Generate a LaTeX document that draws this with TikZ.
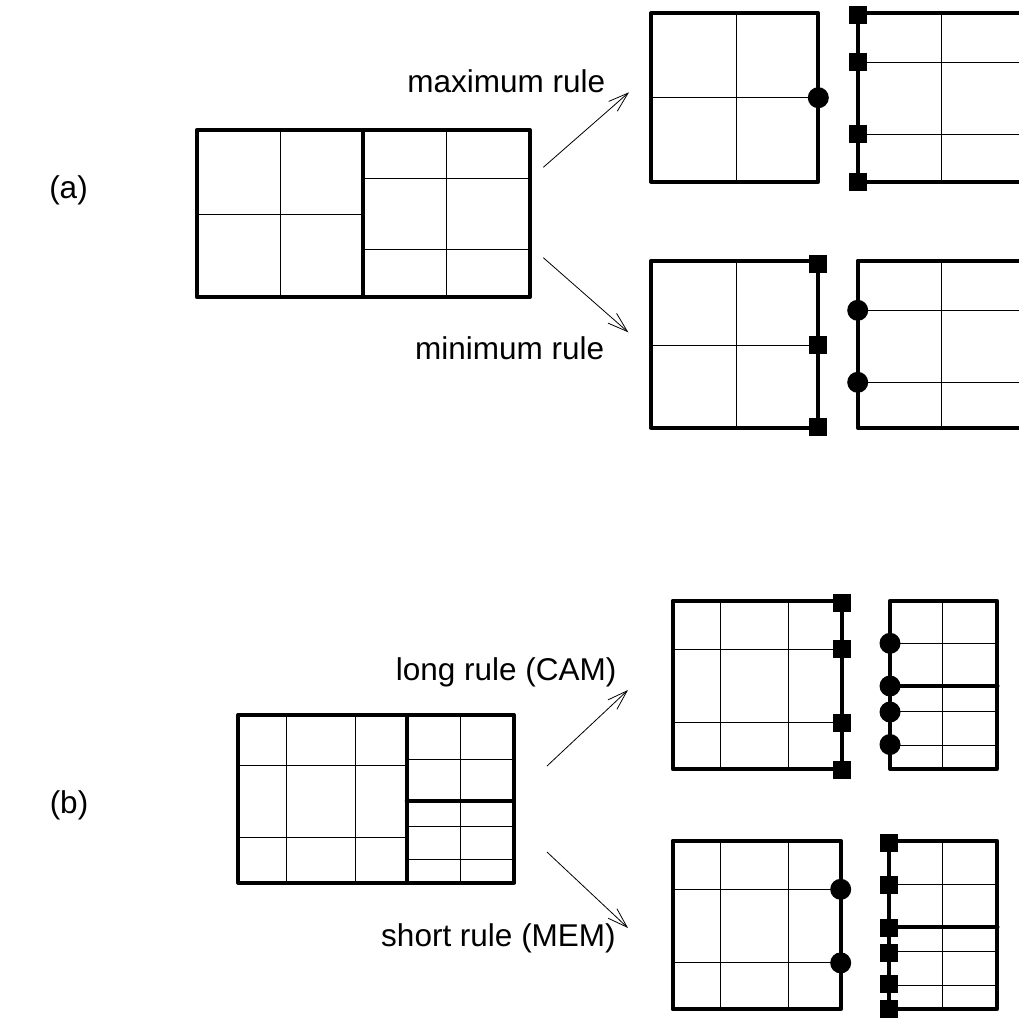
\documentclass[tikz,border=0pt]{standalone}
\usepackage{fontspec}
\setmainfont{Liberation Sans}
\usetikzlibrary{arrows.meta}
\begin{document}
\begin{tikzpicture}[x=1pt,y=-1pt,
 thickline/.style={line width=4pt, line join=round, line cap=round},
 thinline/.style={line width=1pt},
 sq/.style={rectangle, fill=black, minimum size=18pt, inner sep=0pt, draw=none},
 dot/.style={circle, fill=black, minimum size=21pt, inner sep=0pt, draw=none},
 lbl/.style={anchor=base, font=\fontsize{31.5}{38}\selectfont, inner sep=0pt},
 arr/.style={line width=0.8pt, -{Straight Barb[length=20pt,width=13pt,line width=0.8pt]}}
]
\useasboundingbox (0,0) rectangle (1019,1017);
\clip (0,0) rectangle (1019,1017);

% ---------- (a) original ----------
\draw[thinline] (280.7,130) -- (280.7,297) (196.7,214.3) -- (362.7,214.3)
  (446,130) -- (446,297) (362.7,178.3) -- (530,178.3) (362.7,249.3) -- (530,249.3);
\draw[thickline] (196.7,130) rectangle (530,297) (362.7,130) -- (362.7,297);

% maximum rule: left part
\draw[thinline] (736.7,13.3) -- (736.7,181.7) (651,97.7) -- (818.3,97.7);
\draw[thickline] (651,13.3) rectangle (818.3,181.7);
\node[dot] (mxc1) at (818.3,97.7) {};
% maximum rule: right part
\draw[thinline] (941.7,13.3) -- (941.7,181.7) (858.3,62.3) -- (1025,62.3) (858.3,134.3) -- (1025,134.3);
\draw[thickline] (1030,13.3) -- (858.3,13.3) -- (858.3,181.7) -- (1030,181.7);
\node[sq] (mxs1) at (858.3,15) {};
\node[sq] (mxs2) at (858.3,62.3) {};
\node[sq] (mxs3) at (858.3,134.3) {};
\node[sq] (mxs4) at (858.3,181.7) {};

% minimum rule: left part
\draw[thinline] (736.7,260.7) -- (736.7,427.7) (651,345.3) -- (818.3,345.3);
\draw[thickline] (651,260.7) rectangle (818.3,427.7);
\node[sq] (mns1) at (818.3,263.5) {};
\node[sq] (mns2) at (818.3,345.3) {};
\node[sq] (mns3) at (818.3,427) {};
% minimum rule: right part
\draw[thinline] (941.7,260.7) -- (941.7,427.7) (857.7,310.3) -- (1025,310.3) (857.7,382.3) -- (1025,382.3);
\draw[thickline] (1030,260.7) -- (857.7,260.7) -- (857.7,427.7) -- (1030,427.7);
\node[dot] (mnc1) at (857.7,310.3) {};
\node[dot] (mnc2) at (857.7,382.3) {};

% ---------- (b) original ----------
\draw[thinline] (286.7,715) -- (286.7,882.7) (355,715) -- (355,882.7)
  (238.3,765.3) -- (406.7,765.3) (238.3,837.7) -- (406.7,837.7)
  (460.7,715) -- (460.7,882.7) (406.7,759) -- (514,759)
  (406.7,826.7) -- (514,826.7) (406.7,859.3) -- (514,859.3);
\draw[thickline] (238.3,715) rectangle (514,882.7) (406.7,715) -- (406.7,882.7) (406.7,801) -- (514,801);

% long rule: left part
\draw[thinline] (720,600.7) -- (720,769) (788.3,600.7) -- (788.3,769)
  (672.7,649.3) -- (841.7,649.3) (672.7,722.7) -- (841.7,722.7);
\draw[thickline] (672.7,600.7) rectangle (841.7,769);
\node[sq] (ls1) at (841.7,602.7) {};
\node[sq] (ls2) at (841.7,649.3) {};
\node[sq] (ls3) at (841.7,722.7) {};
\node[sq] (ls4) at (841.7,770) {};
% long rule: right part
\draw[thinline] (942.7,600.7) -- (942.7,769) (890,643.3) -- (996.7,643.3)
  (890,711.7) -- (996.7,711.7) (890,745) -- (996.7,745);
\draw[thickline] (890,600.7) rectangle (996.7,769) (890,686) -- (997.5,686);
\node[dot] (lc1) at (890,643.3) {};
\node[dot] (lc2) at (890,686) {};
\node[dot] (lc3) at (890,712) {};
\node[dot] (lc4) at (890,744.5) {};

% short rule: left part
\draw[thinline] (720,840.7) -- (720,1009.3) (788.3,840.7) -- (788.3,1009.3)
  (672.7,889.3) -- (840.7,889.3) (672.7,962.7) -- (840.7,962.7);
\draw[thickline] (672.7,840.7) rectangle (840.7,1009.3);
\node[dot] (sc1) at (840.7,889.3) {};
\node[dot] (sc2) at (840.7,962.9) {};
% short rule: right part
\draw[thinline] (942.7,840.7) -- (942.7,1009.3) (889.3,884.3) -- (996.7,884.3)
  (889.3,951.7) -- (996.7,951.7) (889.3,985) -- (996.7,985);
\draw[thickline] (889.3,840.7) rectangle (996.7,1009.3) (889.3,926.7) -- (997.5,926.7);
\node[sq] (ss1) at (889.3,842.7) {};
\node[sq] (ss2) at (889.3,885) {};
\node[sq] (ss3) at (889.3,927.7) {};
\node[sq] (ss4) at (889.3,952.7) {};
\node[sq] (ss5) at (889.3,984) {};
\node[sq] (ss6) at (889.3,1009.3) {};

% ---------- labels ----------
\node[lbl] (tmax) at (506.2,92) {maximum rule};
\node[lbl] (tmin) at (509.7,359) {minimum rule};
\node[lbl] (tlong) at (506.2,680.5) {long rule (CAM)};
\node[lbl] (tshort) at (498.5,946) {short rule (MEM)};
\node[lbl] (ta) at (68.5,198) {(a)};
\node[lbl] (tb) at (69,813) {(b)};

% ---------- arrows ----------
\coordinate (a1s) at (543.3,167.3);
\coordinate (a1e) at (629,92.3);
\coordinate (a2s) at (543.3,257.7);
\coordinate (a2e) at (628.3,332.3);
\coordinate (b1s) at (547,766);
\coordinate (b1e) at (628,690);
\coordinate (b2s) at (547,852);
\coordinate (b2e) at (628,928);
\draw[arr] (a1s) -- (a1e);
\draw[arr] (a2s) -- (a2e);
\draw[arr] (b1s) -- (b1e);
\draw[arr] (b2s) -- (b2e);
\end{tikzpicture}
\end{document}
